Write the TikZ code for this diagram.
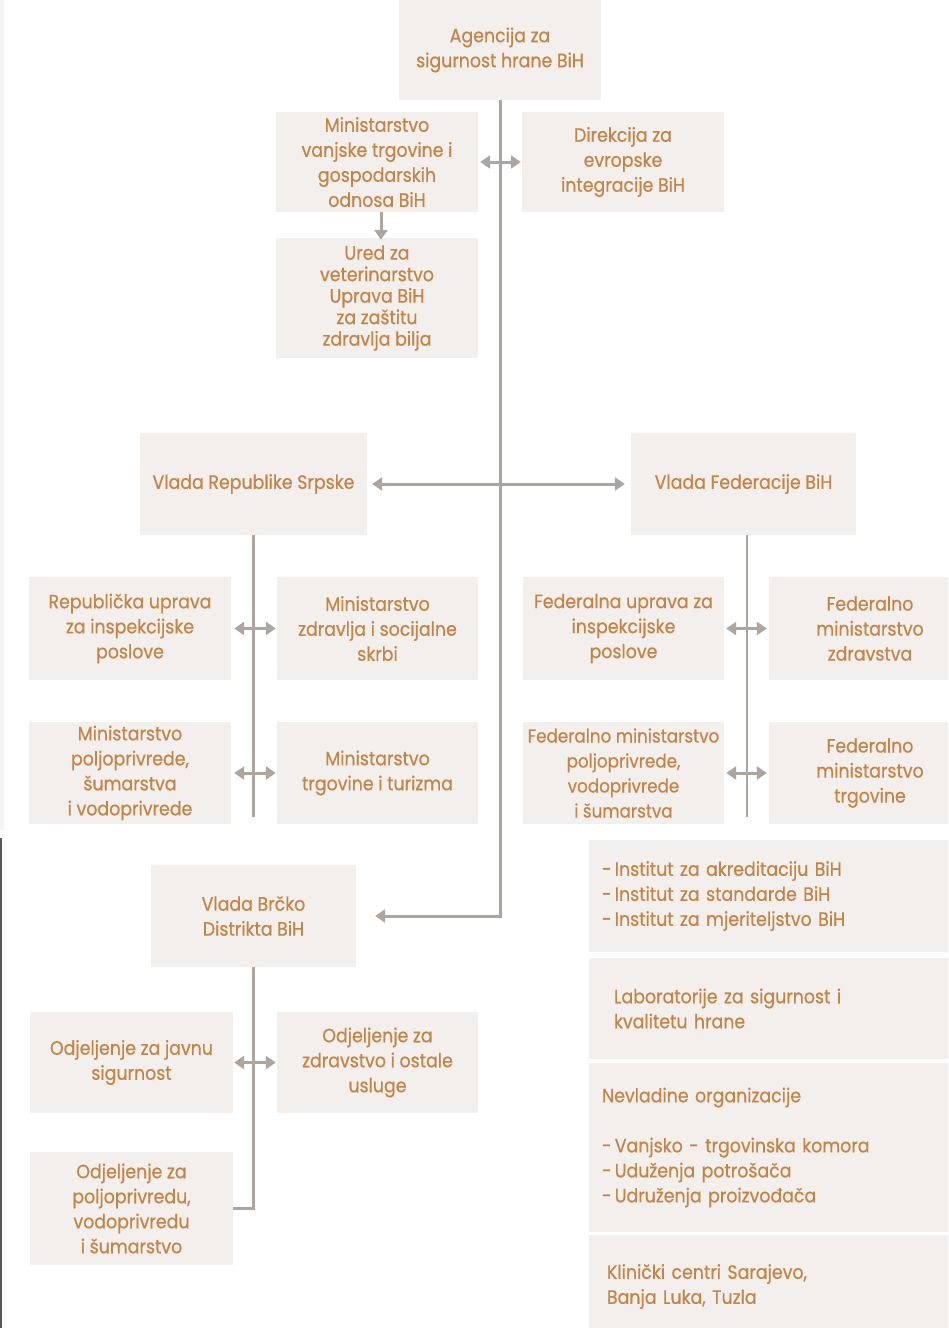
\documentclass[tikz,border=0pt]{standalone}
\usepackage{fontspec}
\setmainfont{Poppins}[FakeStretch=0.9, FakeBold=0.6]
\usetikzlibrary{arrows.meta}
\definecolor{boxfill}{HTML}{F3EFEC}
\definecolor{txt}{HTML}{C58447}
\definecolor{lnc}{HTML}{ADA59F}
\begin{document}
\begin{tikzpicture}[x=1pt,y=-1pt,
  box/.style={fill=boxfill, text=txt, inner sep=0pt, align=center,
    font=\fontsize{19.3}{25}\selectfont},
  lbox/.style={fill=boxfill, text=txt, inner ysep=0pt, align=left,
    font=\fontsize{19.3}{25}\selectfont},
  conn/.style={draw=lnc, line width=2.5pt},
  dbl/.style={draw=lnc, line width=3pt, {Triangle[length=10pt,width=13pt]}-{Triangle[length=10pt,width=13pt]}},
  sgl/.style={draw=lnc, line width=3pt, -{Triangle[length=10pt,width=13pt]}}
]
\useasboundingbox (0,0) rectangle (948,1328);
\fill[white] (0,0) rectangle (948,1328);
\clip (0,0) rectangle (948,1328);

% top level
\node[box, minimum width=202, minimum height=100] (agency) at (500,50) {Agencija za\\sigurnost hrane BiH};
\node[box, minimum width=202, minimum height=100] (mvt) at (377,162) {Ministarstvo\\vanjske trgovine i\\gospodarskih\\odnosa BiH};
\node[box, minimum width=202, minimum height=100] (dir) at (623,162) {Direkcija za\\evropske\\integracije BiH};
\node[box, minimum width=202, minimum height=120, font=\fontsize{19.3}{21.5}\selectfont] (ured) at (377,298) {Ured za\\veterinarstvo\\Uprava BiH\\za zaštitu\\zdravlja bilja};

% governments
\node[box, minimum width=227, minimum height=102] (vrs) at (253.5,484) {Vlada Republike Srpske};
\node[box, minimum width=225, minimum height=102] (vfb) at (743.5,484) {Vlada Federacije BiH};

% RS row
\node[box, minimum width=202, minimum height=103] (rep) at (130,628.5) {Republička uprava\\za inspekcijske\\poslove};
\node[box, minimum width=201, minimum height=103] (mzs) at (377.5,628.5) {Ministarstvo\\zdravlja i socijalne\\skrbi};
\node[box, minimum width=202, minimum height=102] (mpsv) at (130,773) {Ministarstvo\\poljoprivrede,\\šumarstva\\i vodoprivrede};
\node[box, minimum width=201, minimum height=102] (mtt) at (377.5,773) {Ministarstvo\\trgovine i turizma};

% FBiH row
\node[box, minimum width=201, minimum height=103] (fup) at (623.5,628.5) {Federalna uprava za\\inspekcijske\\poslove};
\node[box, minimum width=202, minimum height=103] (fmz) at (870,628.5) {Federalno\\ministarstvo\\zdravstva};
\node[box, minimum width=201, minimum height=102, font=\fontsize{18.6}{25}\selectfont] (fmp) at (623.5,773) {Federalno ministarstvo\\poljoprivrede,\\vodoprivrede\\i šumarstva};
\node[box, minimum width=202, minimum height=102] (fmt) at (870,773) {Federalno\\ministarstvo\\trgovine};

% Brcko
\node[box, minimum width=205, minimum height=102] (brc) at (253.5,916) {Vlada Brčko\\Distrikta BiH};
\node[box, minimum width=203, minimum height=101] (ojs) at (131.5,1062.5) {Odjeljenje za javnu\\sigurnost};
\node[box, minimum width=201, minimum height=101] (ozd) at (377.5,1062.5) {Odjeljenje za\\zdravstvo i ostale\\usluge};
\node[box, minimum width=203, minimum height=113] (opv) at (131.5,1208.5) {Odjeljenje za\\poljoprivredu,\\vodoprivredu\\i šumarstvo};

% right column
\node[lbox, inner xsep=13pt, text width=354pt, minimum height=112] (inst) at (779,896) {-\,Institut za akreditaciju BiH\\-\,Institut za standarde BiH\\-\,Institut za mjeriteljstvo BiH};
\node[lbox, inner xsep=25pt, text width=330pt, minimum height=101] (lab) at (779,1008.5) {Laboratorije za sigurnost i\\kvalitetu hrane};
\node[lbox, inner xsep=13pt, text width=354pt, minimum height=169] (nev) at (779,1147.5) {Nevladine organizacije\\[25pt]-\,Vanjsko - trgovinska komora\\-\,Uduženja potrošača\\-\,Udruženja proizvođača};
\node[lbox, inner xsep=18pt, text width=344pt, minimum height=103] (kli) at (779,1286.5) {Klinički centri Sarajevo,\\Banja Luka, Tuzla};

% connectors
\coordinate (rsend) at (253.5,817);
\coordinate (fbend) at (747,817);
\coordinate (fbtop) at (747,535);
\draw[conn] (vrs.south) -- (rsend);
\draw[conn] (fbtop) -- (fbend);
\draw[conn] (brc.south) |- (opv.east);
\draw[sgl] (agency.south) |- ([xshift=19pt]brc.east);

\draw[dbl] ([xshift=2pt]mvt.east) -- ([xshift=-1pt]dir.west);
\draw[sgl] ([xshift=4pt]mvt.south) -- ([xshift=4pt,yshift=-2pt]ured.north);
\draw[dbl] ([xshift=5pt]vrs.east) -- ([xshift=-6pt]vfb.west);
\draw[dbl] ([xshift=3pt]rep.east) -- ([xshift=-1pt]mzs.west);
\draw[dbl] ([xshift=3pt]mpsv.east) -- ([xshift=-1pt]mtt.west);
\draw[dbl] ([xshift=2pt]fup.east) -- ([xshift=-2pt]fmz.west);
\draw[dbl] ([xshift=2pt]fmp.east) -- ([xshift=-2pt]fmt.west);
\draw[dbl] ([xshift=1pt]ojs.east) -- ([xshift=-1pt]ozd.west);

% scan edge
\fill[black!4] (0,0) rectangle (4,830);
\draw[black!65, line width=2pt] (1,838) -- (1,1328);
\end{tikzpicture}
\end{document}
